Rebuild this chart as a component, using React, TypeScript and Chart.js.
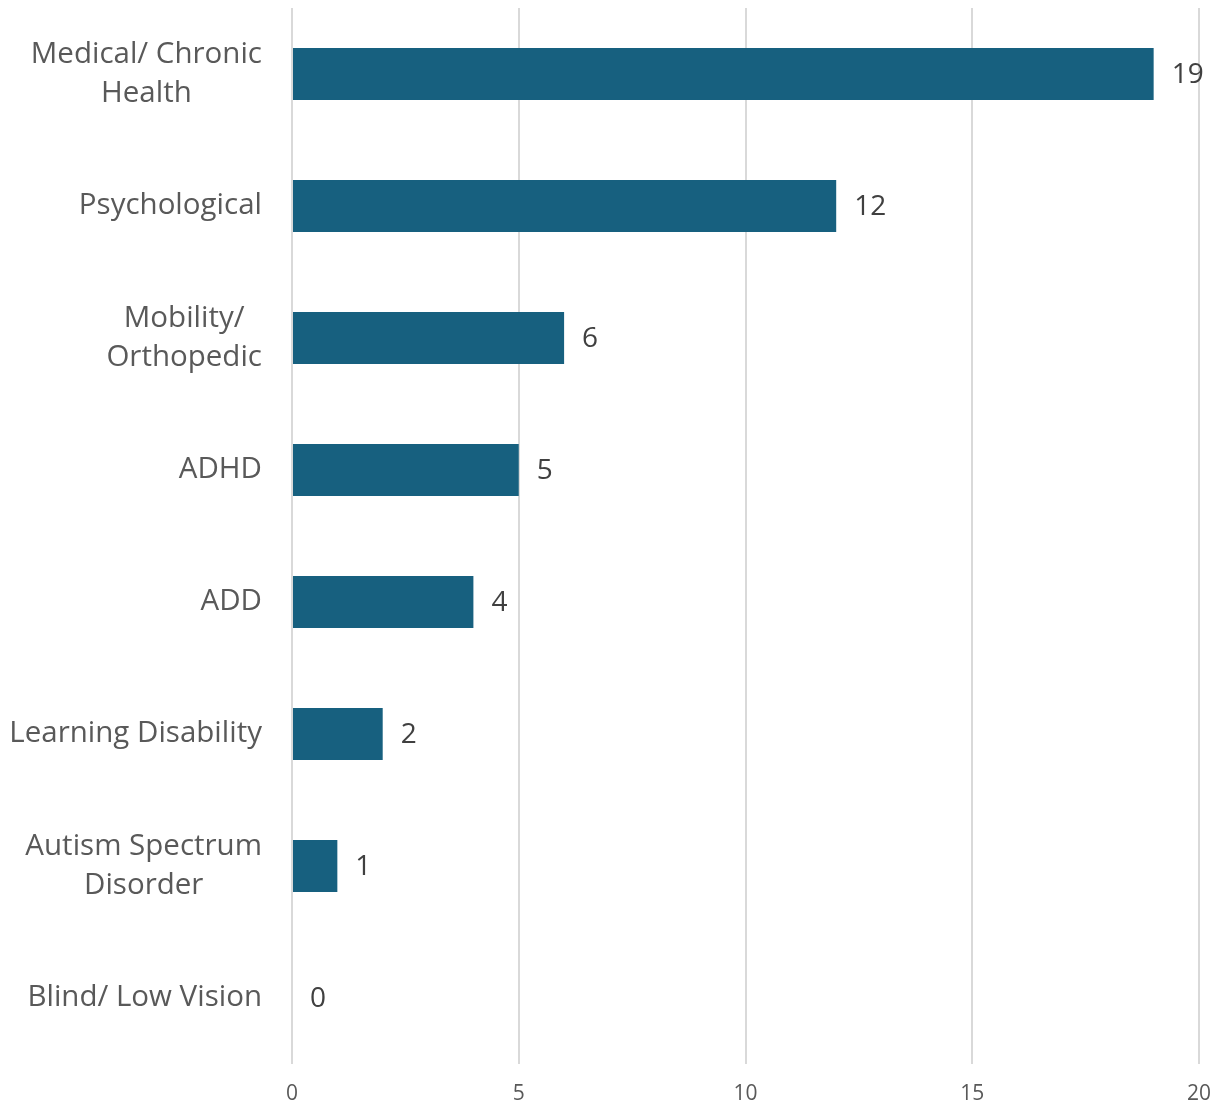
import React, { useEffect, useRef } from "react";
import { Chart, registerables } from "chart.js";

Chart.register(...registerables);

const categories: (string | string[])[] = [
  ["Medical/ Chronic", "Health"],
  "Psychological",
  ["Mobility/", "Orthopedic"],
  "ADHD",
  "ADD",
  "Learning Disability",
  ["Autism Spectrum", "Disorder"],
  "Blind/ Low Vision",
];
const counts: number[] = [19, 12, 6, 5, 4, 2, 1, 0];
const xTicks: number[] = [0, 5, 10, 15, 20];

const FONT = "'Open Sans', 'Noto Sans', sans-serif";
const LABEL_SIZE = 29.5;
const LINE_H = 39;

const valueLabels = {
  id: "valueLabels",
  afterDatasetsDraw(chart: any) {
    const ctx = chart.ctx;
    const meta = chart.getDatasetMeta(0);
    ctx.save();
    ctx.font = `28px ${FONT}`;
    ctx.fillStyle = "#404040";
    ctx.textAlign = "left";
    ctx.textBaseline = "middle";
    meta.data.forEach((el: any, i: number) => {
      ctx.fillText(String(counts[i]), el.x + 18, el.y + 1);
    });
    ctx.restore();
  },
};

// Category labels: block right-aligned, lines centred within the block
const categoryLabels = {
  id: "categoryLabels",
  afterDraw(chart: any) {
    const ctx = chart.ctx;
    const yScale = chart.scales.y;
    const right = chart.chartArea.left - 30;
    ctx.save();
    ctx.font = `${LABEL_SIZE}px ${FONT}`;
    ctx.fillStyle = "#595959";
    ctx.textAlign = "center";
    ctx.textBaseline = "middle";
    categories.forEach((lab, i) => {
      const lines = Array.isArray(lab) ? lab : [lab];
      const maxW = Math.max(...lines.map((l) => ctx.measureText(l).width));
      const cx = right - maxW / 2;
      const cy = yScale.getPixelForTick(i);
      const top = cy - ((lines.length - 1) * LINE_H) / 2;
      lines.forEach((l, j) => ctx.fillText(l, cx, top + j * LINE_H));
    });
    ctx.restore();
  },
};

export default function App() {
  const ref = useRef<HTMLCanvasElement | null>(null);
  useEffect(() => {
    if (!ref.current) return;
    const chart = new Chart(ref.current, {
      type: "bar",
      data: {
        labels: categories,
        datasets: [
          {
            data: counts,
            backgroundColor: "#17607F",
            categoryPercentage: 0.394,
            barPercentage: 1,
          },
        ],
      },
      options: {
        indexAxis: "y",
        animation: false,
        responsive: false,
        maintainAspectRatio: false,
        layout: { padding: { top: 8, right: 30, left: 0, bottom: 0 } },
        plugins: { legend: { display: false }, tooltip: { enabled: false } },
        scales: {
          x: {
            min: 0,
            max: 20,
            afterBuildTicks: (axis: any) => {
              axis.ticks = xTicks.map((v) => ({ value: v }));
            },
            afterFit: (axis: any) => {
              axis.height = 45;
              axis.paddingLeft = 0;
              axis.paddingRight = 0;
            },
            grid: { color: "#d9d9d9", lineWidth: 2, drawTicks: false },
            border: { display: false },
            ticks: {
              padding: 17,
              color: "#595959",
              font: { family: FONT, size: 21 },
            },
          },
          y: {
            afterFit: (axis: any) => {
              axis.width = 292;
              axis.paddingTop = 0;
              axis.paddingBottom = 0;
            },
            grid: { display: false, drawTicks: false },
            border: { display: false },
            ticks: {
              padding: 30,
              color: "rgba(0,0,0,0)",
              font: { family: FONT, size: 29, lineHeight: 1.35 },
            },
          },
        },
      },
      plugins: [valueLabels, categoryLabels],
    });
    return () => chart.destroy();
  }, []);
  return (
    <div style={{ position: "fixed", left: 0, top: 0, width: 1229, height: 1109, background: "#fff" }}>
      <canvas ref={ref} width={1229} height={1109} style={{ width: 1229, height: 1109 }} />
    </div>
  );
}
